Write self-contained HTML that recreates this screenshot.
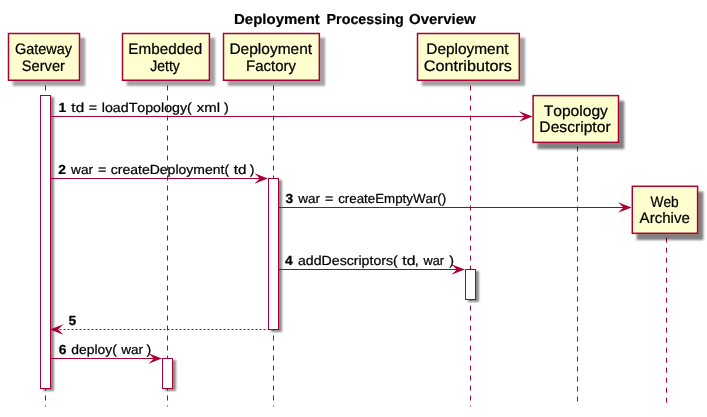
<!DOCTYPE html>
<html>
<head>
<meta charset="utf-8">
<title>Deployment Processing Overview</title>
<style>
html,body{margin:0;padding:0;background:#ffffff;}
body{width:707px;height:417px;overflow:hidden;}
svg{display:block;}
text{text-rendering:geometricPrecision;font-kerning:none;font-family:"Liberation Sans",sans-serif;fill:#000000;stroke:#000000;stroke-width:0.2px;white-space:pre;}
.p{font-size:15.2px;stroke-width:0.24px;}
.t{font-size:14.5px;}
.m{font-size:13.2px;stroke-width:0.24px;}
.b{font-weight:bold;}
.ll{stroke:#A80036;stroke-width:1;stroke-dasharray:5,5;fill:none;}
.ln{stroke:#A80036;stroke-width:1;fill:none;}
.box{fill:#FEFECE;stroke:#A80036;stroke-width:1.5;}
.bar{fill:#FFFFFF;stroke:#A80036;stroke-width:1;}
.ah{fill:#A80036;stroke:none;}
</style>
</head>
<body>
<svg width="707" height="417" viewBox="0 0 707 417">
<defs>
<filter id="sh" x="-20%" y="-20%" width="150%" height="150%">
<feGaussianBlur in="SourceAlpha" stdDeviation="1.15"/>
<feOffset dx="4.8" dy="4.6"/>
<feComponentTransfer><feFuncA type="linear" slope="0.37"/></feComponentTransfer>
<feMerge><feMergeNode/><feMergeNode in="SourceGraphic"/></feMerge>
</filter>
<filter id="sh3" x="-20%" y="-20%" width="150%" height="150%">
<feGaussianBlur in="SourceAlpha" stdDeviation="0.95"/>
<feOffset dx="4.9" dy="5.5"/>
<feComponentTransfer><feFuncA type="linear" slope="0.5"/></feComponentTransfer>
<feMerge><feMergeNode/><feMergeNode in="SourceGraphic"/></feMerge>
</filter>
<filter id="sh2" x="-60%" y="-10%" width="250%" height="120%">
<feGaussianBlur in="SourceAlpha" stdDeviation="0.9"/>
<feOffset dx="2.5" dy="2.1"/>
<feComponentTransfer><feFuncA type="linear" slope="0.47"/></feComponentTransfer>
<feMerge><feMergeNode/><feMergeNode in="SourceGraphic"/></feMerge>
</filter>
</defs>
<rect x="0" y="0" width="707" height="417" fill="#ffffff"/>
<g style="opacity:0.999">
<!-- title -->
<text class="t b" x="234.00" y="24.00" textLength="85.79" lengthAdjust="spacingAndGlyphs">Deployment</text>
<text class="t b" x="326.54" y="24.00" textLength="77.22" lengthAdjust="spacingAndGlyphs">Processing</text>
<text class="t b" x="408.98" y="24.00" textLength="66.69" lengthAdjust="spacingAndGlyphs">Overview</text>

<!-- lifelines -->
<line class="ll" x1="45.5" y1="75.5" x2="45.5" y2="406.5"/>
<line class="ll" x1="167.5" y1="75.5" x2="167.5" y2="406.5"/>
<line class="ll" x1="273.5" y1="75.5" x2="273.5" y2="406.5"/>
<line class="ll" x1="470.5" y1="75.5" x2="470.5" y2="406.5"/>
<line class="ll" x1="577.5" y1="136.5" x2="577.5" y2="406.5"/>
<line class="ll" x1="666.5" y1="227.7" x2="666.5" y2="406.5"/>

<!-- activation bars -->
<rect class="bar" filter="url(#sh2)" x="40.5" y="95.5" width="10" height="293"/>
<rect class="bar" filter="url(#sh2)" x="268.5" y="178.5" width="10" height="151"/>
<rect class="bar" filter="url(#sh2)" x="465.5" y="269.5" width="10" height="30"/>
<rect class="bar" filter="url(#sh2)" x="162.5" y="358.5" width="10" height="30"/>

<!-- participants -->
<rect class="box" filter="url(#sh)" x="8.5" y="33.5" width="71" height="46.75"/>
<text class="p" x="14.99" y="53.60" textLength="57.01" lengthAdjust="spacingAndGlyphs">Gateway</text>
<text class="p" x="21.86" y="70.80" textLength="43.07" lengthAdjust="spacingAndGlyphs">Server</text>
<rect class="box" filter="url(#sh)" x="122.5" y="33.5" width="86.9" height="46.75"/>
<text class="p" x="128.37" y="53.60" textLength="73.79" lengthAdjust="spacingAndGlyphs">Embedded</text>
<text class="p" x="150.30" y="70.80" textLength="29.51" lengthAdjust="spacingAndGlyphs">Jetty</text>
<rect class="box" filter="url(#sh)" x="223.5" y="33.5" width="95.85" height="46.75"/>
<text class="p" x="229.45" y="53.60" textLength="82.64" lengthAdjust="spacingAndGlyphs">Deployment</text>
<text class="p" x="246.09" y="70.80" textLength="49.92" lengthAdjust="spacingAndGlyphs">Factory</text>
<rect class="box" filter="url(#sh)" x="417.5" y="33.5" width="101.8" height="46.75"/>
<text class="p" x="426.26" y="53.60" textLength="82.24" lengthAdjust="spacingAndGlyphs">Deployment</text>
<text class="p" x="423.80" y="70.80" textLength="88.07" lengthAdjust="spacingAndGlyphs">Contributors</text>
<rect class="box" filter="url(#sh3)" x="533.1" y="95.6" width="85.4" height="46.75"/>
<text class="p" x="543.67" y="115.80" textLength="64.24" lengthAdjust="spacingAndGlyphs">Topology</text>
<text class="p" x="539.34" y="131.70" textLength="71.30" lengthAdjust="spacingAndGlyphs">Descriptor</text>
<rect class="box" filter="url(#sh3)" x="632.3" y="186.3" width="65.3" height="47"/>
<text class="p" x="650.56" y="206.60" textLength="28.20" lengthAdjust="spacingAndGlyphs">Web</text>
<text class="p" x="639.59" y="223.10" textLength="50.36" lengthAdjust="spacingAndGlyphs">Archive</text>

<!-- messages -->
<line class="ln" x1="51" y1="116.5" x2="526.2" y2="116.5"/>
<polygon class="ah" points="519.12,111.13 532.55,116.50 519.12,121.87 524.49,116.50"/>
<text class="m b" x="58.45" y="111.70" textLength="7.71" lengthAdjust="spacingAndGlyphs">1</text>
<text class="m" x="71.39" y="111.70" textLength="12.78" lengthAdjust="spacingAndGlyphs">td</text>
<text class="m" x="88.79" y="111.70" textLength="8.33" lengthAdjust="spacingAndGlyphs">=</text>
<text class="m" x="101.76" y="111.70" textLength="90.10" lengthAdjust="spacingAndGlyphs">loadTopology(</text>
<text class="m" x="196.85" y="111.70" textLength="23.23" lengthAdjust="spacingAndGlyphs">xml</text>
<text class="m" x="224.08" y="111.70" textLength="4.75" lengthAdjust="spacingAndGlyphs">)</text>
<line class="ln" x1="51" y1="178.5" x2="261.5" y2="178.5"/>
<polygon class="ah" points="254.42,173.13 267.85,178.50 254.42,183.87 259.79,178.50"/>
<text class="m b" x="58.18" y="173.70" textLength="7.71" lengthAdjust="spacingAndGlyphs">2</text>
<text class="m" x="71.04" y="173.70" textLength="21.97" lengthAdjust="spacingAndGlyphs">war</text>
<text class="m" x="97.94" y="173.70" textLength="8.33" lengthAdjust="spacingAndGlyphs">=</text>
<text class="m" x="110.83" y="173.70" textLength="118.24" lengthAdjust="spacingAndGlyphs">createDeployment(</text>
<text class="m" x="233.79" y="173.70" textLength="12.67" lengthAdjust="spacingAndGlyphs">td</text>
<text class="m" x="249.73" y="173.70" textLength="4.75" lengthAdjust="spacingAndGlyphs">)</text>
<line class="ln" x1="279" y1="207.5" x2="625.2" y2="207.5"/>
<polygon class="ah" points="618.12,202.13 631.55,207.50 618.12,212.87 623.49,207.50"/>
<text class="m b" x="285.64" y="202.70" textLength="7.71" lengthAdjust="spacingAndGlyphs">3</text>
<text class="m" x="298.34" y="202.70" textLength="21.76" lengthAdjust="spacingAndGlyphs">war</text>
<text class="m" x="325.09" y="202.70" textLength="8.33" lengthAdjust="spacingAndGlyphs">=</text>
<text class="m" x="338.15" y="202.70" textLength="108.05" lengthAdjust="spacingAndGlyphs">createEmptyWar()</text>
<line class="ln" x1="279" y1="269.5" x2="458.5" y2="269.5"/>
<polygon class="ah" points="451.42,264.13 464.85,269.50 451.42,274.87 456.79,269.50"/>
<text class="m b" x="285.13" y="264.60" textLength="7.71" lengthAdjust="spacingAndGlyphs">4</text>
<text class="m" x="298.02" y="264.60" textLength="99.74" lengthAdjust="spacingAndGlyphs">addDescriptors(</text>
<text class="m" x="402.38" y="264.60" textLength="13.11" lengthAdjust="spacingAndGlyphs">td</text>
<text class="m" x="414.82" y="264.60" textLength="3.96" lengthAdjust="spacingAndGlyphs">,</text>
<text class="m" x="423.44" y="264.60" textLength="20.55" lengthAdjust="spacingAndGlyphs">war</text>
<text class="m" x="449.18" y="264.60" textLength="4.75" lengthAdjust="spacingAndGlyphs">)</text>
<line class="ln" x1="51.5" y1="329.5" x2="268" y2="329.5" stroke-dasharray="2,2"/>
<polygon class="ah" points="63.48,324.13 50.05,329.50 63.48,334.87 58.11,329.50"/>
<text class="m b" x="68.48" y="325.00" textLength="7.71" lengthAdjust="spacingAndGlyphs">5</text>
<line class="ln" x1="51" y1="358.5" x2="155.5" y2="358.5"/>
<polygon class="ah" points="148.42,353.13 161.85,358.50 148.42,363.87 153.79,358.50"/>
<text class="m b" x="58.69" y="353.80" textLength="7.71" lengthAdjust="spacingAndGlyphs">6</text>
<text class="m" x="71.34" y="353.80" textLength="45.52" lengthAdjust="spacingAndGlyphs">deploy(</text>
<text class="m" x="121.24" y="353.80" textLength="21.76" lengthAdjust="spacingAndGlyphs">war</text>
<text class="m" x="146.53" y="353.80" textLength="4.75" lengthAdjust="spacingAndGlyphs">)</text>
</g>
</svg>
</body>
</html>
